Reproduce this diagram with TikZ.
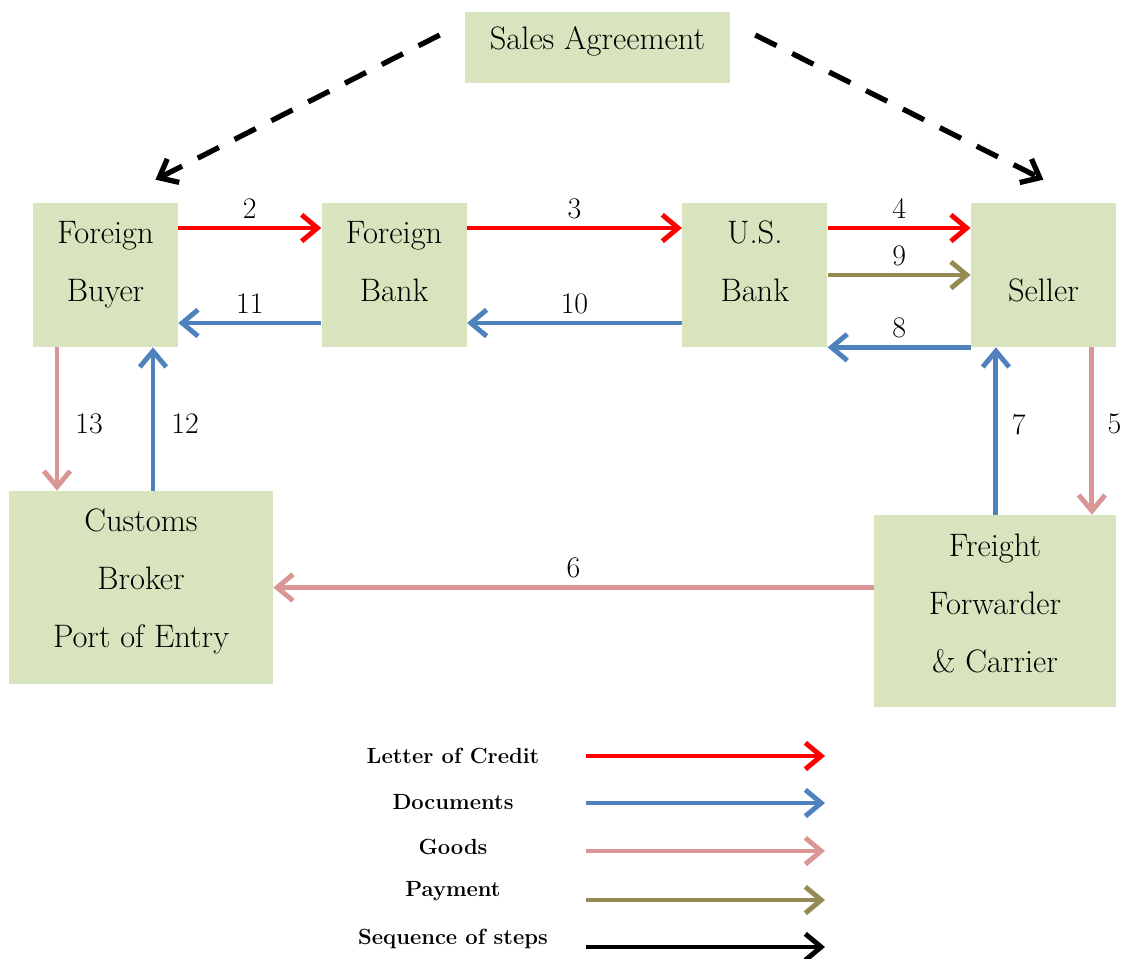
\documentclass[tikz,border=0pt]{standalone}
\usepackage{tikz}
\usetikzlibrary{positioning,arrows.meta}

\definecolor{creditred}{HTML}{FF0000}
\definecolor{docblue}{HTML}{4F81BD}
\definecolor{goodspink}{HTML}{D99694}
\definecolor{payolive}{HTML}{948A54}
\definecolor{boxgreen}{HTML}{D7E4BD}

\begin{document}
\begin{tikzpicture}[
  x=0.02cm, y=-0.02cm,
  >={Straight Barb[length=9pt,width=15pt]},
  party/.style={fill=boxgreen, inner sep=0pt, align=center, minimum width=2.9cm, minimum height=2.88cm,
    font=\fontsize{18.5}{33}\selectfont, text height=45pt, text depth=14.4pt},
  flow/.style={->, line width=2.8pt},
  credit/.style={flow, draw=creditred},
  docs/.style={flow, draw=docblue},
  goods/.style={flow, draw=goodspink},
  payment/.style={flow, draw=payolive},
  steps/.style={flow, draw=black},
  num/.style={font=\fontsize{17}{19}\selectfont, text=black},
  legend/.style={font=\fontsize{12.5}{14}\selectfont\bfseries}
]
  \useasboundingbox (0,0) rectangle (1126,958);

  % parties
  \node[party, minimum width=5.3cm, minimum height=1.42cm, text height=13pt, text depth=11pt] (sales) at (597.5,47.5) {Sales Agreement};
  \node[party] (buyer) at (105.5,275) {Foreign\\Buyer};
  \node[party, right=2.86cm of buyer] (fbank) {Foreign\\Bank};
  \node[party, right=4.3cm of fbank] (usbank) {U.S.\\Bank};
  \node[party, right=2.86cm of usbank, text height=30.4pt, text depth=0pt] (seller) {Seller};
  \node[party, minimum width=5.28cm, minimum height=3.86cm, text height=78pt, text depth=9.4pt] (customs) at (141,587.5) {Customs\\Broker\\Port of Entry};
  \node[party, minimum width=4.84cm, minimum height=3.84cm, text height=78pt, text depth=8.2pt] (freight) at (995,611) {Freight\\Forwarder\\\& Carrier};

  % sales agreement
  \draw[->, line width=3pt, dash pattern=on 13.5pt off 10pt] ([shift={(-0.5cm,0.25cm)}]sales.west) -- ([shift={(1cm,0.46cm)}]buyer.north);
  \draw[->, line width=3pt, dash pattern=on 13.5pt off 10pt] ([shift={(0.5cm,0.25cm)}]sales.east) -- ([shift={(0cm,0.46cm)}]seller.north);

  % letter of credit
  \draw[credit] ([yshift=0.94cm]buyer.east) -- node[num, above=0.02cm]{2} ([yshift=0.94cm]fbank.west);
  \draw[credit] ([yshift=0.94cm]fbank.east) -- node[num, above=0.02cm]{3} ([yshift=0.94cm]usbank.west);
  \draw[credit] ([yshift=0.94cm]usbank.east) -- node[num, above=0.02cm]{4} ([yshift=0.94cm]seller.west);

  % goods
  \draw[goods] ([xshift=0.97cm]seller.south) -- node[num, right=0.15cm, pos=0.46]{5} ([xshift=0.97cm]seller.south |- freight.north);
  \draw[goods] (customs.east -| freight.west) -- node[num, above=0.02cm]{6} (customs.east);
  \draw[goods] ([xshift=-0.97cm]buyer.south) -- node[num, right=0.2cm, pos=0.535]{13} ([xshift=-0.97cm]buyer.south |- customs.north);

  % documents
  \draw[docs] ([xshift=-0.95cm]seller.south |- freight.north) -- node[num, right=0.15cm, pos=0.54]{7} ([xshift=-0.95cm]seller.south);
  \draw[docs] (seller.south west) -- node[num, above=0.02cm]{8} (usbank.south east);
  \draw[docs] ([yshift=-0.96cm]usbank.west) -- node[num, above=0.02cm]{10} ([yshift=-0.96cm]fbank.east);
  \draw[docs] ([yshift=-0.96cm]fbank.west) -- node[num, above=0.02cm]{11} ([yshift=-0.96cm]buyer.east);
  \draw[docs] ([xshift=0.95cm]buyer.south |- customs.north) -- node[num, right=0.2cm, pos=0.465]{12} ([xshift=0.95cm]buyer.south);

  % payment
  \draw[payment] (usbank.east) -- node[num, above=0.02cm]{9} (seller.west);

  % legend
  \node[legend] (lcredit) at (453,756) {Letter of Credit};
  \node[legend] (ldocs) at (453,802) {Documents};
  \node[legend] (lgoods) at (453,847) {Goods};
  \node[legend] (lpay) at (453,891) {Payment};
  \node[legend] (lsteps) at (453,939) {Sequence of steps};
  \coordinate (cs1) at (586,756); \coordinate (ce1) at (825,756);
  \coordinate (cs2) at (586,803); \coordinate (ce2) at (825,803);
  \coordinate (cs3) at (586,851); \coordinate (ce3) at (825,851);
  \coordinate (cs4) at (586,900); \coordinate (ce4) at (825,900);
  \coordinate (cs5) at (586,947); \coordinate (ce5) at (825,947);
  \draw[credit] (cs1) -- (ce1);
  \draw[docs] (cs2) -- (ce2);
  \draw[goods] (cs3) -- (ce3);
  \draw[payment] (cs4) -- (ce4);
  \draw[steps] (cs5) -- (ce5);
\end{tikzpicture}
\end{document}
